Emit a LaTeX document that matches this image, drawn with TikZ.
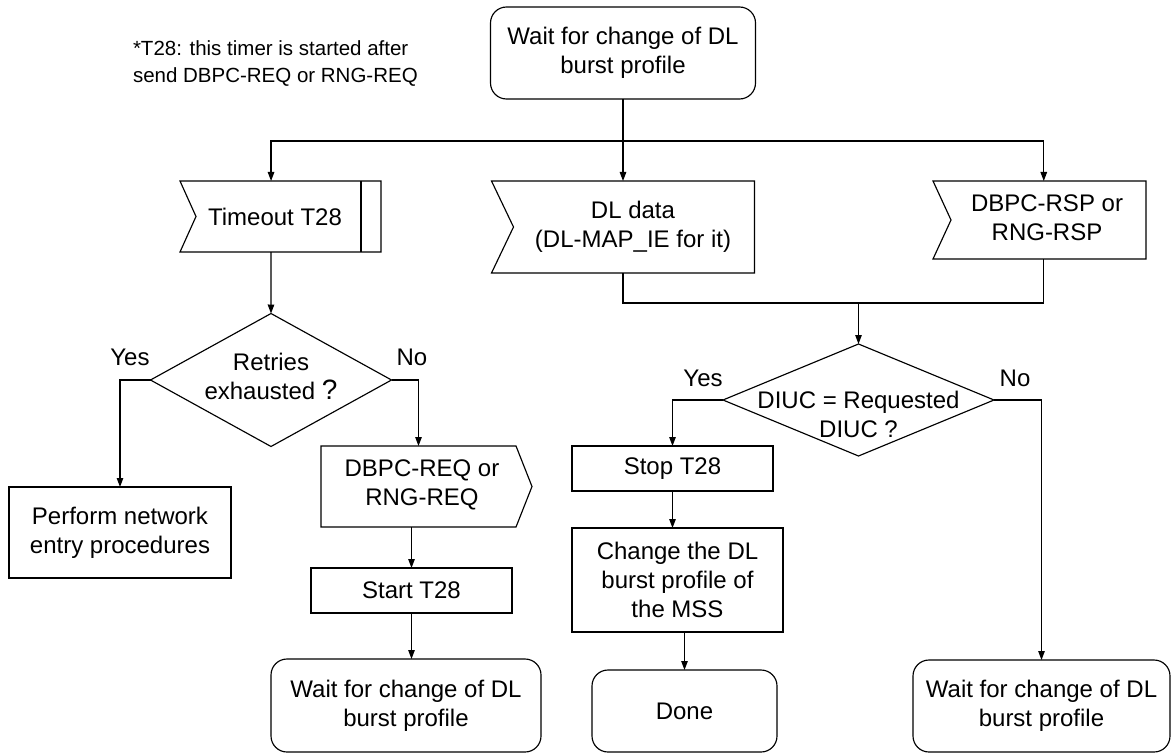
\documentclass[tikz,border=0pt]{standalone}
\usepackage{fontspec}
\setmainfont{Liberation Sans}
\usetikzlibrary{arrows.meta,calc,shapes.geometric}
\begin{document}
\begin{tikzpicture}[x=1pt,y=-1pt,
  every node/.style={font=\fontsize{24}{29}\selectfont, inner sep=0pt, outer sep=0pt, align=center},
  line/.style={line width=1.15pt},
  arr/.style={line width=1.15pt, -{Triangle[length=9pt,width=6.5pt]}},
  boxr/.style={draw, line width=1.15pt, rounded corners=16pt},
  boxs/.style={draw, line width=1.15pt},
  ghost/.style={draw=none},
  lbl/.style={font=\fontsize{24}{29}\selectfont},
  note/.style={font=\fontsize{20.5}{27}\selectfont, align=left, anchor=west},
  dia/.style={diamond, draw, line width=1.15pt, inner sep=0pt}
]
\fill[white] (0,0) rectangle (1174,754);
\useasboundingbox (0,0) rectangle (1174,754);

% note
\node[note] (nt) at (133,64) {*T28: this timer is started after\\send DBPC-REQ or RNG-REQ};

% top start
\node[boxr, minimum width=265pt, minimum height=92pt] (top) at (623,53) {Wait for change of DL\\burst profile};

% timeout (input signal with timer bar)
\node[ghost, minimum width=201pt, minimum height=71pt] (timeout) at (280.5,216.5) {};
\draw[line] (timeout.north west) -- (timeout.north east) -- (timeout.south east) -- (timeout.south west) -- ($(timeout.west)+(16,0)$) -- cycle;
\draw[line] ($(timeout.north east)+(-20,0)$) -- ($(timeout.south east)+(-20,0)$);
\node (timeout-t) at (275,216.5) {Timeout T28};

% DL data (input signal)
\node[ghost, minimum width=263pt, minimum height=92pt] (dldata) at (623,227) {};
\draw[line] (dldata.north west) -- (dldata.north east) -- (dldata.south east) -- (dldata.south west) -- ($(dldata.west)+(22,0)$) -- cycle;
\node (dldata-t) at (633,227) {DL data\\(DL-MAP\_IE for it)};

% DBPC-RSP (input signal)
\node[ghost, minimum width=213pt, minimum height=78pt] (rsp) at (1039.5,220) {};
\draw[line] (rsp.north west) -- (rsp.north east) -- (rsp.south east) -- (rsp.south west) -- ($(rsp.west)+(18,0)$) -- cycle;
\node (rsp-t) at (1047,218) {DBPC-RSP or\\RNG-RSP};

% Retries diamond
\node[dia, minimum width=241pt, minimum height=133pt] (retries) at (271,380) {};
\node (retries-t) at (271,376) {Retries\\exhausted {\fontsize{28}{29}\selectfont ?}};

% Perform
\node[boxs, minimum width=222pt, minimum height=91pt] (perform) at (120,532.5) {Perform network\\entry procedures};

% DBPC-REQ (output signal)
\node[ghost, minimum width=195pt, minimum height=81pt] (req) at (418.5,486.5) {};
\draw[line] (req.north west) -- (req.north east) -- ($(req.east)+(16,0)$) -- (req.south east) -- (req.south west) -- cycle;
\node (req-t) at (422,485) {DBPC-REQ or\\RNG-REQ};

% Start T28
\node[boxs, minimum width=201pt, minimum height=45pt] (start) at (411.5,590.5) {Start T28};

% Wait (left bottom)
\node[boxr, minimum width=270pt, minimum height=93pt] (waitL) at (406,705.5) {Wait for change of DL\\burst profile};

% DIUC diamond
\node[dia, minimum width=271pt, minimum height=112pt] (diuc) at (858.5,400) {};
\node (diuc-t) at (858.5,414) {DIUC = Requested\\DIUC ?};

% Stop T28
\node[boxs, minimum width=201pt, minimum height=45pt] (stop) at (672.5,468.5) {Stop T28};

% Change
\node[boxs, minimum width=211pt, minimum height=104pt] (change) at (677.5,580) {Change the DL\\burst profile of\\the MSS};

% Done
\node[boxr, minimum width=185pt, minimum height=82pt] (done) at (684.5,711) {Done};

% Wait (right bottom)
\node[boxr, minimum width=257pt, minimum height=92pt] (waitR) at (1041.5,706) {Wait for change of DL\\burst profile};

% labels
\node[lbl] (y1) at (130,357) {Yes};
\node[lbl] (n1) at (412,357) {No};
\node[lbl] (y2) at (703,378) {Yes};
\node[lbl] (n2) at (1015,378) {No};

% connectors
\coordinate (br) at ($(top.south)+(0,42)$);
\draw[line] (top.south) -- (br);
\draw[arr] (br) -| ($(timeout.north west)!0.453!(timeout.north east)$);
\draw[arr] (br) -- (dldata.north);
\draw[arr] (br) -| ($(rsp.north west)!0.52!(rsp.north east)$);

\draw[arr] ($(timeout.south west)!0.453!(timeout.south east)$) -- (retries.north);

\coordinate (mj) at ($(dldata.south)+(0,30)$);
\draw[line] (dldata.south) -- (mj) -| ($(rsp.south west)!0.52!(rsp.south east)$);
\draw[arr] (mj -| diuc.north) -- (diuc.north);

\draw[arr] (retries.west) -| (perform.north);
\draw[arr] (retries.east) -| (req.north);
\draw[arr] (req.south -| start.north) -- (start.north);
\draw[arr] (start.south) -- (start.south |- waitL.north);

\draw[arr] (diuc.west) -| (stop.north);
\draw[arr] (stop.south) -- (stop.south |- change.north);
\draw[arr] (done.north |- change.south) -- (done.north);
\draw[arr] (diuc.east) -| (waitR.north);
\end{tikzpicture}
\end{document}
